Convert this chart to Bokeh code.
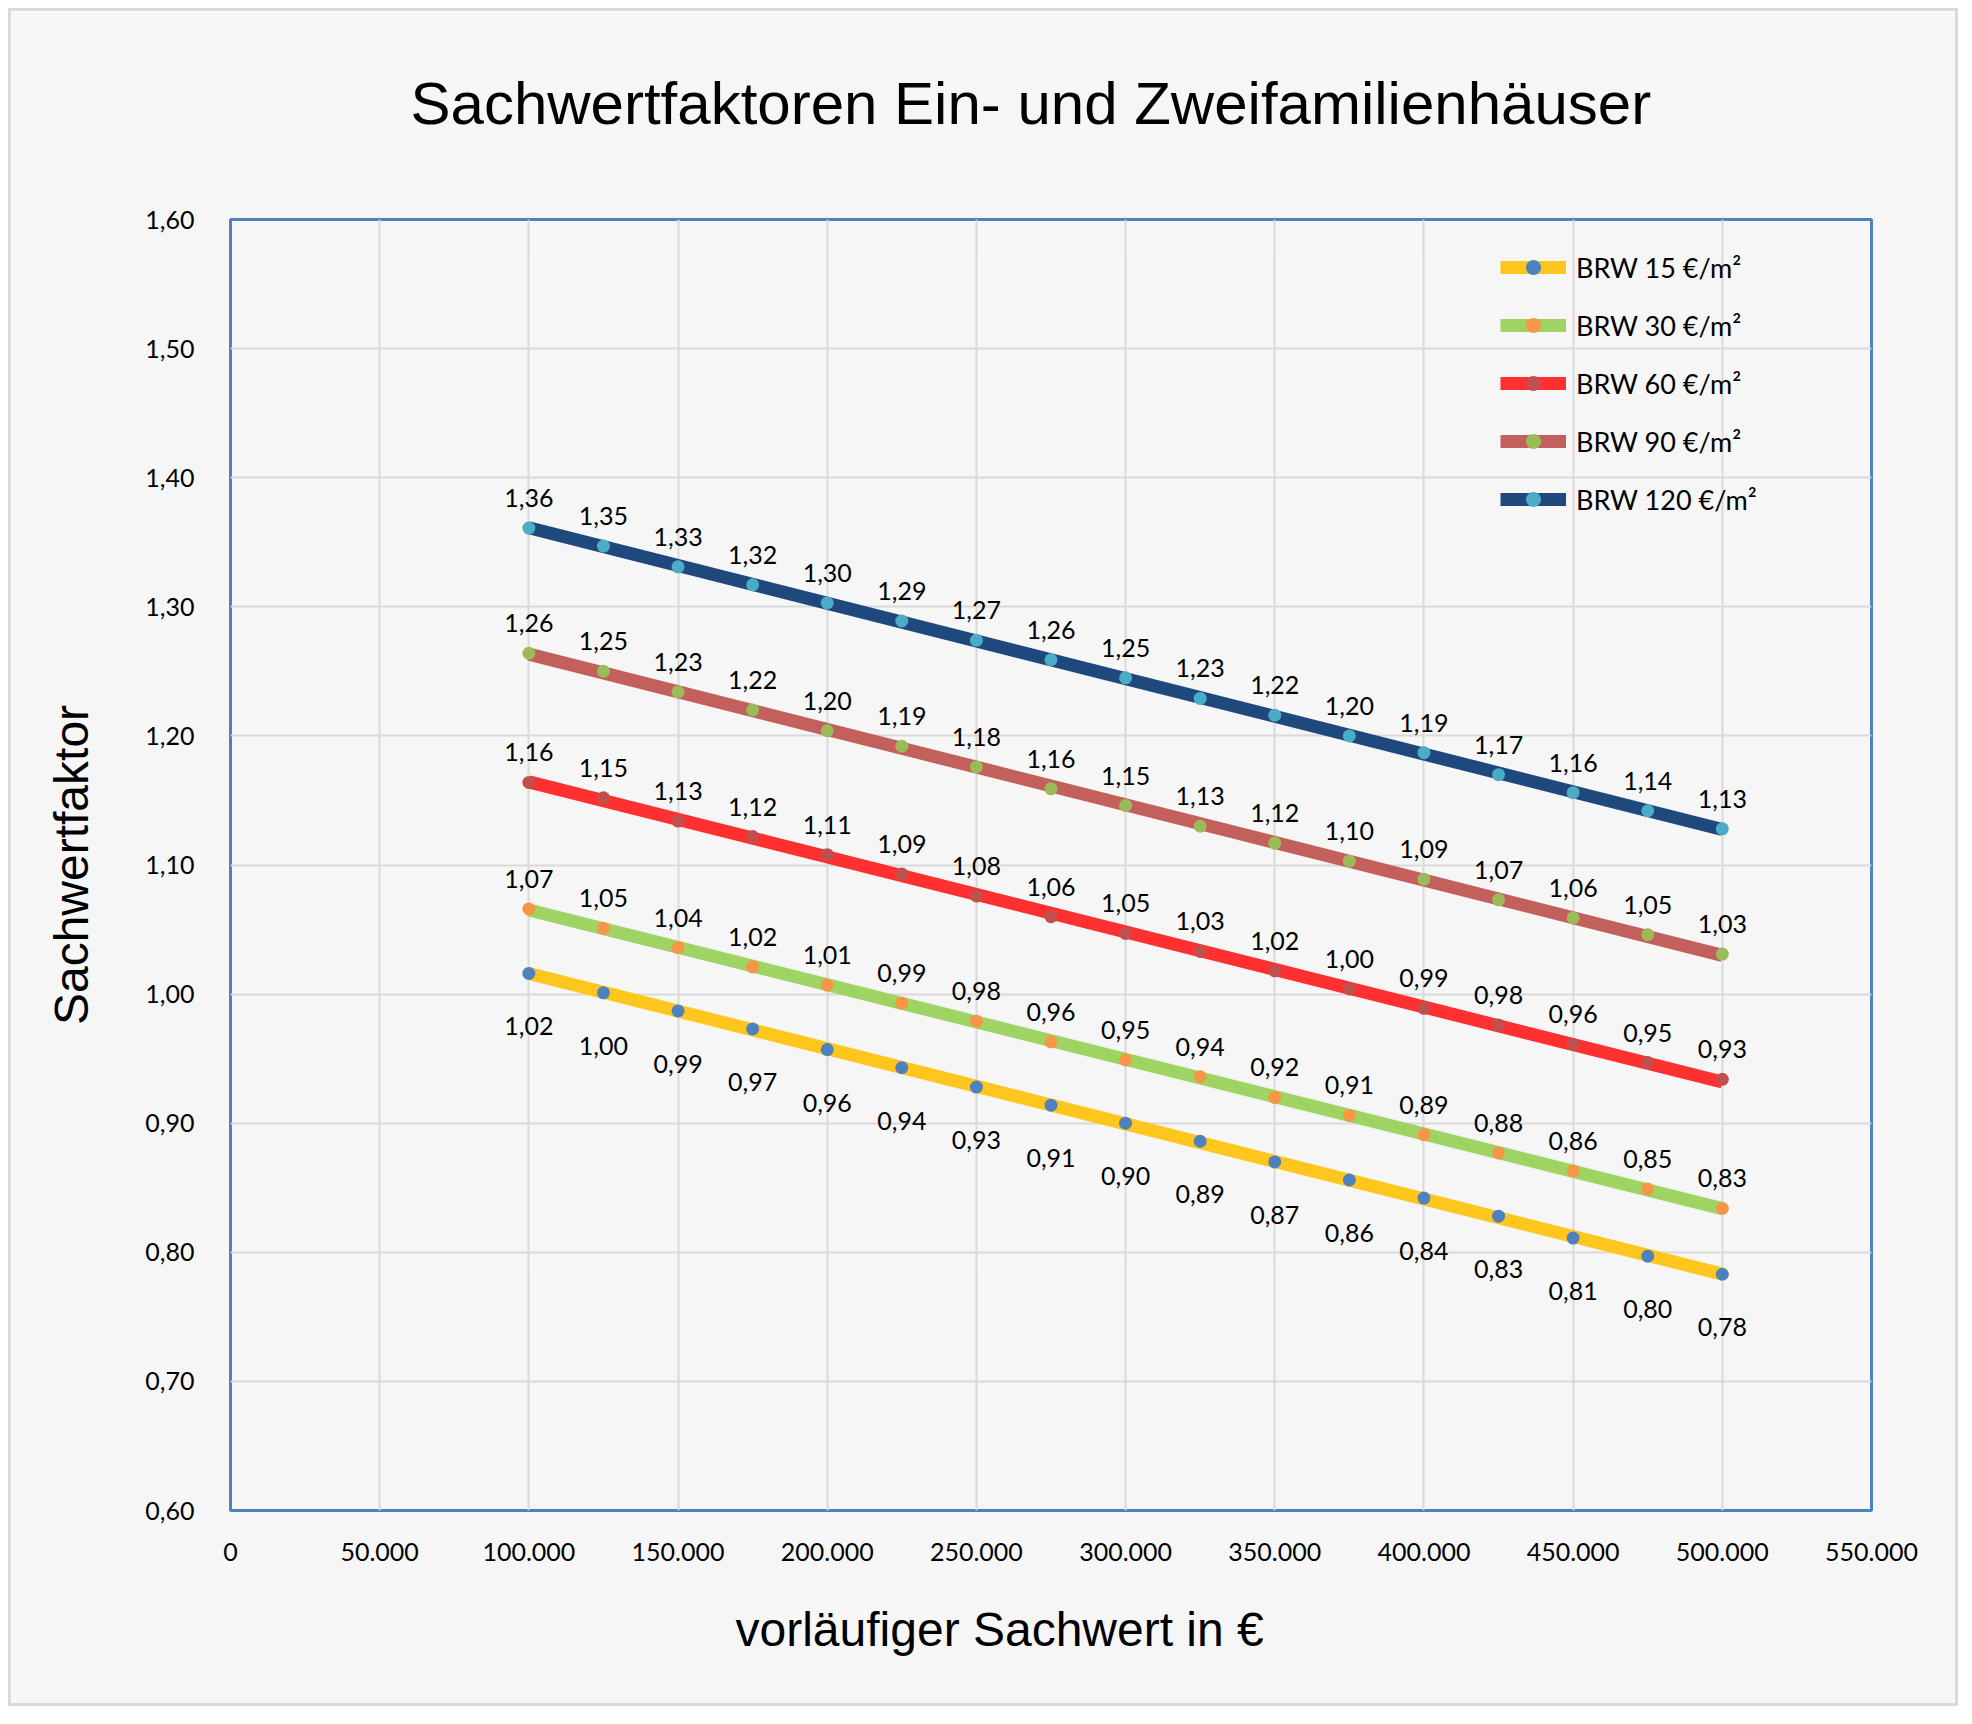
import numpy as np
from bokeh.plotting import figure
from bokeh.models import (Range1d, FixedTicker, CustomJSTickFormatter, Title,
                          Legend, LegendItem)
from bokeh.core.properties import value
from bokeh.embed import file_html
from bokeh.resources import INLINE

# ---- data -------------------------------------------------------------
sachwert = [100000, 125000, 150000, 175000, 200000, 225000, 250000, 275000, 300000,
            325000, 350000, 375000, 400000, 425000, 450000, 475000, 500000]

brw_15 = [1.016, 1.001, 0.987, 0.973, 0.957, 0.943, 0.928, 0.914, 0.900,
          0.886, 0.870, 0.856, 0.842, 0.828, 0.811, 0.797, 0.783]
brw_30 = [1.066, 1.051, 1.036, 1.021, 1.007, 0.993, 0.979, 0.963, 0.949,
          0.936, 0.920, 0.906, 0.891, 0.877, 0.863, 0.849, 0.834]
brw_60 = [1.164, 1.152, 1.134, 1.122, 1.108, 1.093, 1.076, 1.060, 1.047,
          1.033, 1.018, 1.004, 0.989, 0.976, 0.961, 0.947, 0.934]
brw_90 = [1.264, 1.250, 1.234, 1.220, 1.204, 1.192, 1.176, 1.159, 1.146,
          1.130, 1.117, 1.103, 1.089, 1.073, 1.059, 1.046, 1.031]
brw_120 = [1.361, 1.347, 1.331, 1.317, 1.303, 1.289, 1.274, 1.259, 1.245,
           1.229, 1.216, 1.200, 1.187, 1.170, 1.156, 1.142, 1.128]

series_names = ["BRW 15 €/m²", "BRW 30 €/m²", "BRW 60 €/m²", "BRW 90 €/m²", "BRW 120 €/m²"]
series_values = [brw_15, brw_30, brw_60, brw_90, brw_120]
line_colors = ["#FFC61E", "#9FD465", "#FF3030", "#C4605B", "#1F497D"]
marker_colors = ["#4F81BD", "#F79646", "#C0504D", "#9BBB59", "#4BACC6"]
label_below = [True, False, False, False, False]

x_ticks = [0, 50000, 100000, 150000, 200000, 250000, 300000,
           350000, 400000, 450000, 500000, 550000]
y_ticks = [0.6, 0.7, 0.8, 0.9, 1.0, 1.1, 1.2, 1.3, 1.4, 1.5, 1.6]

title_text = "Sachwertfaktoren Ein- und Zweifamilienhäuser"
x_title = "vorläufiger Sachwert in €"
y_title = "Sachwertfaktor"

BG = "#F6F6F6"
LABEL_FONT = "Lato"
TITLE_FONT = "Liberation Sans"

# ---- figure -----------------------------------------------------------
p = figure(width=1950, height=1698,
           x_range=Range1d(0, 550000), y_range=Range1d(0.6, 1.6),
           output_backend="svg", toolbar_location=None,
           min_border_left=219, min_border_right=90,
           min_border_top=208, min_border_bottom=199,
           background_fill_color=BG, border_fill_color=BG)
p.margin = (8, 8, 8, 8)
p.styles = {"border": "3px solid #D9D9D9"}

p.outline_line_color = "#4F81BD"
p.outline_line_width = 3

p.xaxis.ticker = FixedTicker(ticks=x_ticks)
p.yaxis.ticker = FixedTicker(ticks=y_ticks)
p.xaxis.formatter = CustomJSTickFormatter(
    code="return tick.toFixed(0).replace(/\\B(?=(\\d{3})+(?!\\d))/g, '.');")
p.yaxis.formatter = CustomJSTickFormatter(
    code="return tick.toFixed(2).replace('.', ',');")

for ax in (p.xaxis, p.yaxis):
    ax.axis_line_color = None
    ax.major_tick_line_color = None
    ax.minor_tick_line_color = None
    ax.major_label_text_font = LABEL_FONT
    ax.major_label_text_font_size = "25px"
    ax.major_label_text_color = "#000000"
p.xaxis.major_label_standoff = 26
p.yaxis.major_label_standoff = 30

# y axis title
p.yaxis.axis_label = y_title
p.yaxis.axis_label_text_font = TITLE_FONT
p.yaxis.axis_label_text_font_size = "48px"
p.yaxis.axis_label_text_font_style = "normal"
p.yaxis.axis_label_text_color = "#000000"
p.yaxis.axis_label_standoff = 44

p.grid.grid_line_color = "#D9D9D9"
p.grid.grid_line_width = 2

# ---- series: linear trend line, markers, value labels ----------------
xs = np.array(sachwert, dtype=float)
legend_items = []
line_renderers = []
for name, vals, lc in zip(series_names, series_values, line_colors):
    slope, intercept = np.polyfit(xs, np.array(vals), 1)
    x_end = [xs[0], xs[-1]]
    y_end = [slope * xs[0] + intercept, slope * xs[-1] + intercept]
    rl = p.line(x_end, y_end, line_color=lc, line_width=13, line_cap="butt")
    line_renderers.append(rl)

for i, (name, vals, mc) in enumerate(zip(series_names, series_values, marker_colors)):
    rs = p.scatter(sachwert, vals, marker="circle", size=13,
                   fill_color=mc, line_color=None)
    legend_items.append(LegendItem(label=name, renderers=[line_renderers[i], rs]))

for vals, below in zip(series_values, label_below):
    texts = [f"{v:.2f}".replace(".", ",") for v in vals]
    p.text(sachwert, vals, text=texts, text_font=value(LABEL_FONT),
           text_font_size="25px", text_color="#000000",
           text_align="center", text_baseline="alphabetic",
           y_offset=53 if below else -30)

legend = Legend(items=legend_items, location=(1270, 992),
                background_fill_alpha=0, border_line_alpha=0,
                padding=0, margin=0, spacing=20,
                glyph_width=66, glyph_height=38, label_height=38,
                label_standoff=10, label_text_font=LABEL_FONT,
                label_text_font_size="27px", label_text_color="#000000")
p.add_layout(legend)

# ---- titles -------------------------------------------------------------
p.title = Title(text=title_text, text_font=TITLE_FONT, text_font_size="60px",
                text_font_style="normal", text_color="#000000",
                align="left", offset=180, standoff=40,
                padding=dict(left=0, right=0, top=0, bottom=63))
p.add_layout(Title(text=x_title, text_font=TITLE_FONT, text_font_size="48px",
                   text_font_style="normal", text_color="#000000",
                   align="left", offset=505, standoff=75), "below")

open("out.html", "w").write(file_html(p, INLINE))
